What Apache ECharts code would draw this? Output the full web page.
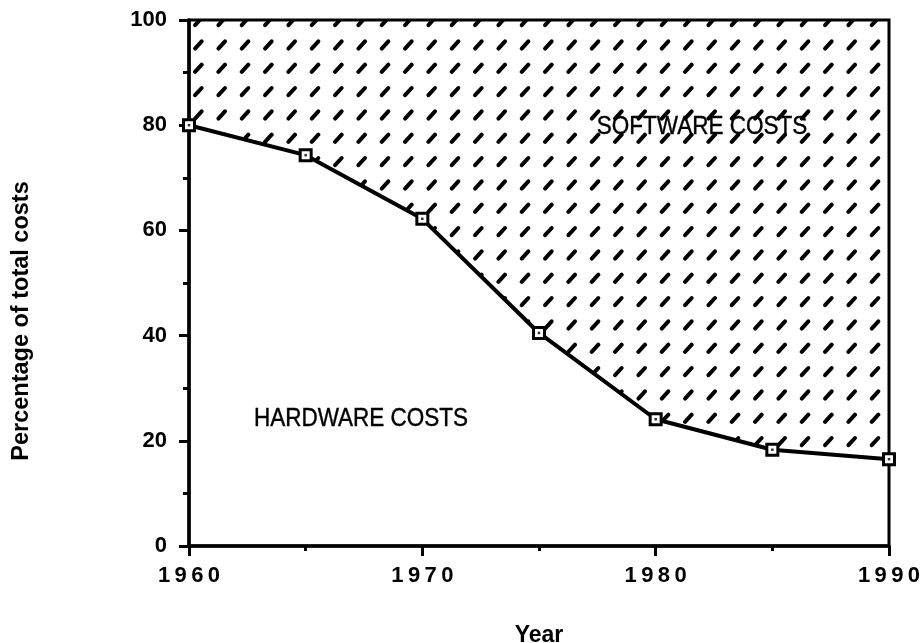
<!DOCTYPE html>
<html>
<head>
<meta charset="utf-8">
<script src="https://cdn.jsdelivr.net/npm/echarts@6/dist/echarts.min.js"></script>
<style>
  html, body { margin: 0; padding: 0; background: #fff; }
  #chart { width: 924px; height: 643px; }
</style>
</head>
<body>
<div id="chart"></div>
<script>
// values
const years = [1960, 1965, 1970, 1975, 1980, 1985, 1990];
const hardwareShare = [80, 74.3, 62.2, 40.5, 24.1, 18.3, 16.5];
const xTicks = [1960, 1970, 1980, 1990];
const yTicks = [0, 20, 40, 60, 80, 100];

const points = years.map((y, i) => [y, hardwareShare[i]]);

// little slanted dashes for the software area
function makeHatch() {
  const size = 70;
  const step = size / 3;
  const c = document.createElement('canvas');
  c.width = size;
  c.height = size;
  const ctx = c.getContext('2d');
  ctx.strokeStyle = '#000';
  ctx.lineWidth = 4;
  ctx.lineCap = 'round';
  for (let i = -1; i <= 3; i++) {
    for (let j = -1; j <= 3; j++) {
      const cx = 11.7 + i * step;
      const cy = 21.7 + j * step;
      ctx.beginPath();
      ctx.moveTo(cx - 3.3, cy + 3.5);
      ctx.lineTo(cx + 3.3, cy - 3.7);
      ctx.stroke();
    }
  }
  return c;
}

const myChart = echarts.init(document.getElementById('chart'));

const tickStyle = { color: '#000', width: 3 };

const option = {
  animation: false,
  grid: {
    left: 189,
    right: 35,
    top: 20,
    bottom: 97,
    outerBoundsMode: 'none',
    show: true,
    borderColor: '#000',
    borderWidth: 3,
    backgroundColor: 'transparent'
  },
  xAxis: {
    type: 'value',
    min: xTicks[0],
    max: xTicks[xTicks.length - 1],
    interval: xTicks[1] - xTicks[0],
    name: 'Year',
    nameLocation: 'middle',
    nameGap: 78,
    nameTextStyle: { fontFamily: 'Liberation Sans', fontWeight: 'bold', fontSize: 23, color: '#000' },
    axisLine: { lineStyle: { color: '#000', width: 3.5 } },
    axisTick: { length: 10, lineStyle: tickStyle },
    minorTick: { show: true, splitNumber: 2, length: 5, lineStyle: tickStyle },
    splitLine: { show: false },
    axisLabel: {
      margin: 19,
      fontFamily: 'Liberation Sans',
      fontWeight: 'bold',
      fontSize: 22,
      color: '#000',
      formatter: v => String(v).split('').join('\u2009')
    }
  },
  yAxis: {
    type: 'value',
    min: yTicks[0],
    max: yTicks[yTicks.length - 1],
    interval: yTicks[1] - yTicks[0],
    axisLine: { show: true, lineStyle: { color: '#000', width: 3.5 } },
    axisTick: { show: true, length: 10, lineStyle: tickStyle },
    minorTick: { show: true, splitNumber: 2, length: 6, lineStyle: tickStyle },
    splitLine: { show: false },
    axisLabel: {
      margin: 22,
      fontFamily: 'Liberation Sans',
      fontWeight: 'bold',
      fontSize: 22,
      color: '#000'
    }
  },
  series: [
    {
      type: 'line',
      data: points,
      symbol: 'rect',
      symbolSize: 11,
      showAllSymbol: true,
      lineStyle: { color: '#000', width: 4 },
      itemStyle: { color: '#fff', borderColor: '#000', borderWidth: 3 },
      areaStyle: {
        origin: 'end',
        opacity: 1,
        color: { image: makeHatch(), repeat: 'repeat' }
      },
      z: 3
    },
    {
      // dot in the middle of each square marker
      type: 'scatter',
      data: points,
      symbol: 'rect',
      symbolSize: 2.5,
      itemStyle: { color: '#000' },
      z: 5
    }
  ],
  graphic: [
    {
      type: 'text',
      x: 22,
      y: 321,
      rotation: Math.PI / 2,
      style: {
        text: 'Percentage of total costs',
        font: 'bold 23.5px "Liberation Sans"',
        textAlign: 'center',
        textVerticalAlign: 'middle',
        fill: '#000'
      }
    },
    {
      type: 'text',
      x: 702,
      y: 127,
      scaleX: 0.9,
      z: 10,
      style: {
        text: 'SOFTWARE COSTS',
        font: '25px "Liberation Sans"',
        textAlign: 'center',
        textVerticalAlign: 'middle',
        fill: '#000',
        stroke: '#000',
        lineWidth: 0.4
      }
    },
    {
      type: 'text',
      x: 361,
      y: 419,
      scaleX: 0.9,
      z: 10,
      style: {
        text: 'HARDWARE COSTS',
        font: '25px "Liberation Sans"',
        textAlign: 'center',
        textVerticalAlign: 'middle',
        fill: '#000',
        stroke: '#000',
        lineWidth: 0.4
      }
    }
  ]
};

myChart.setOption(option);
</script>
</body>
</html>
